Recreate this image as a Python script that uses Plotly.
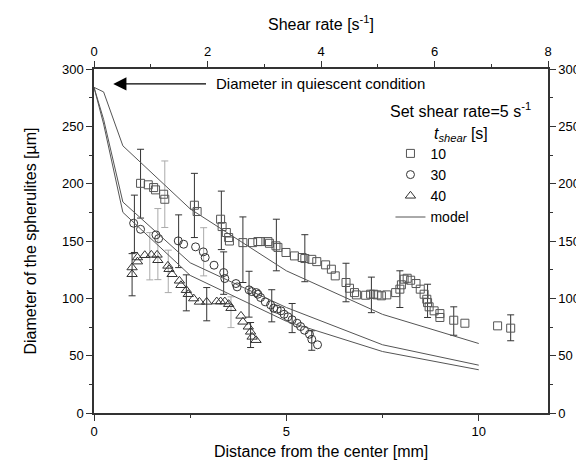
import plotly.graph_objects as go

# ---- data ----
sq_x = [1.21, 1.41, 1.55, 1.60, 1.81, 1.84, 2.61, 2.68, 3.29, 3.33, 3.44, 3.50, 3.52, 3.87, 4.12,
        4.26, 4.33, 4.52, 4.56, 4.73, 4.78, 4.99, 5.21, 5.41, 5.48, 5.66, 5.79, 6.02, 6.17, 6.27,
        6.55, 6.64, 6.77, 6.82, 7.06, 7.19, 7.27, 7.36, 7.47, 7.61, 7.84, 7.95, 7.99, 8.06, 8.14,
        8.23, 8.37, 8.48, 8.58, 8.65, 8.67, 8.71, 8.84, 8.99, 8.99, 9.35, 9.64, 10.49, 10.83]
sq_y = [200.3, 199, 196.6, 194.6, 190.8, 186.4, 181.2, 175.7, 169, 162.6, 157.4, 153, 150, 148.6, 148.6,
        149.5, 149.5, 149.5, 148, 145.8, 144.4, 140, 137, 135.6, 134.7, 134, 132, 129.2, 125.4, 119.6,
        113.8, 108.8, 105, 103, 102.7, 103.6, 103.6, 103, 102.2, 103, 105, 108, 111.8, 116.7, 117.5,
        115.8, 112.9, 108, 103.6, 99.2, 96.3, 92.6, 89.1, 86.7, 83.3, 80.9, 78.3, 76, 74]

ci_x = [1.03, 1.21, 1.61, 1.68, 2.19, 2.33, 2.64, 2.84, 2.89, 3.12, 3.37, 3.40, 3.69, 3.72, 4.03,
        4.10, 4.22, 4.26, 4.33, 4.45, 4.59, 4.67, 4.76, 4.86, 4.94, 5.04, 5.15, 5.28, 5.37, 5.47,
        5.60, 5.66, 5.81]
ci_y = [165.5, 160.2, 155.3, 152.1, 150.1, 147.2, 144.9, 140.5, 135.6, 128.9, 122.5, 117.3, 112.9, 110, 107.4,
        105.9, 105, 103.6, 100.7, 96.9, 94.3, 91.4, 90.5, 89.1, 86.1, 83.9, 81.3, 78.3, 75.4, 72.2,
        68.7, 64.3, 59.5]

tr_x = [0.99, 0.99, 1.13, 1.13, 1.32, 1.49, 1.64, 1.66, 1.92, 1.95, 2.03, 2.22, 2.26, 2.40, 2.45,
        2.59, 2.74, 2.93, 3.19, 3.29, 3.40, 3.50, 3.56, 3.82, 3.87, 4.01, 4.07, 4.11, 4.21]
tr_y = [121, 126.9, 135.6, 132, 137.6, 137.9, 137.9, 133.2, 128.3, 125.4, 121, 115.3, 111.4, 107.1, 103.6,
        99.8, 96.9, 96.9, 97.2, 97.2, 97.2, 94.9, 91.4, 84.7, 79.5, 75.2, 70.8, 66.4, 63.5]

# error bars: position, centre, half-length, shade (1 = light)
sq_ex = [1.21, 1.84, 2.61, 3.31, 3.87, 4.74, 5.48, 6.55, 7.21, 7.95, 8.67, 9.35, 10.83]
sq_ey = [200, 190.8, 181, 168, 142.4, 146.5, 135, 113.8, 103, 108, 97.8, 80.2, 74.3]
sq_ee = [30, 29, 28, 25.5, 28.6, 22.5, 20.5, 16.8, 15.5, 16, 14.5, 12.4, 11.3]
sq_es = [0, 1, 0, 0, 0, 0, 0, 0, 0, 0, 0, 0, 0]

ci_ex = [1.05, 1.66, 2.20, 2.85, 3.37, 4.03, 4.62, 5.15, 5.66]
ci_ey = [165, 147.3, 149.8, 140.6, 122, 103.6, 93.5, 82.8, 63.2]
ci_ee = [25, 31, 23, 21, 18.5, 20, 14, 12.7, 8.5]
ci_es = [0, 1, 0, 1, 0, 0, 0, 0, 0]

tr_ex = [0.99, 1.45, 1.93, 2.40, 2.93, 3.56, 4.07]
tr_ey = [120.6, 136.7, 123.5, 104.8, 94.9, 87.9, 68]
tr_ee = [18.4, 20.6, 18.5, 15.7, 14.5, 13.4, 10.9]
tr_es = [0, 1, 1, 0, 0, 1, 0]

model_x = [0, 0.25, 0.75, 2.5, 5, 7.5, 10]
model_10 = [284, 280, 233, 178, 124, 86, 60.6]
model_30 = [284, 256, 184, 131, 92, 59.5, 41.7]
model_40 = [284, 252, 175, 120, 80, 53.6, 37.7]

series_names = ["10", "30", "40"]

FONT = "Arial, Liberation Sans, sans-serif"
DARK = "#333333"
LIGHT = "#aaaaaa"

fig = go.Figure()

def add_err(ex, ey, ee, es):
    for shade, col in ((0, DARK), (1, LIGHT)):
        xs = [x for x, s in zip(ex, es) if s == shade]
        ys = [y for y, s in zip(ey, es) if s == shade]
        es_ = [e for e, s in zip(ee, es) if s == shade]
        if not xs:
            continue
        fig.add_trace(go.Scatter(
            x=xs, y=ys, mode="markers", showlegend=False, hoverinfo="skip",
            marker=dict(size=1, color="rgba(0,0,0,0)"),
            error_y=dict(type="data", array=es_, visible=True, color=col, thickness=1, width=3.5)))

add_err(sq_ex, sq_ey, sq_ee, sq_es)
add_err(ci_ex, ci_ey, ci_ee, ci_es)
add_err(tr_ex, tr_ey, tr_ee, tr_es)

fig.add_trace(go.Scatter(x=sq_x, y=sq_y, mode="markers", name=series_names[0],
                         marker=dict(symbol="square-open", size=8, color="#555555",
                                     line=dict(width=1, color="#555555"))))
fig.add_trace(go.Scatter(x=ci_x, y=ci_y, mode="markers", name=series_names[1],
                         marker=dict(symbol="circle-open", size=8, color="#333333",
                                     line=dict(width=1, color="#333333"))))
fig.add_trace(go.Scatter(x=tr_x, y=tr_y, mode="markers", name=series_names[2],
                         marker=dict(symbol="triangle-up-open", size=9, color="#333333",
                                     line=dict(width=1, color="#333333"))))

for i, my in enumerate([model_10, model_30, model_40]):
    fig.add_trace(go.Scatter(x=model_x, y=my, mode="lines", name="model",
                             showlegend=(i == 0), line=dict(color="#555555", width=1)))

# dummy trace so the secondary axes are drawn
fig.add_trace(go.Scatter(x=[None], y=[None], xaxis="x2", yaxis="y2", showlegend=False,
                         hoverinfo="skip"))

axis_common = dict(showline=True, linecolor=DARK, linewidth=1.5, ticks="outside",
                   tickcolor=DARK, tickwidth=1.2, ticklen=6, showgrid=False, zeroline=False,
                   tickfont=dict(size=13, color="#000", family=FONT))

fig.update_layout(
    width=584, height=462,
    margin=dict(l=86, r=34, t=61, b=57),
    paper_bgcolor="white", plot_bgcolor="white",
    font=dict(family=FONT, color="#000"),
    xaxis=dict(range=[0, 11.8], tick0=0, dtick=5,
               minor=dict(ticks="outside", ticklen=3, dtick=2.5, tickcolor=DARK), **axis_common),
    xaxis2=dict(range=[0, 8], overlaying="x", side="top", tick0=0, dtick=2,
                minor=dict(ticks="outside", ticklen=3, dtick=1, tickcolor=DARK), **axis_common),
    yaxis=dict(range=[0, 300], tick0=0, dtick=50,
               minor=dict(ticks="outside", ticklen=3, dtick=25, tickcolor=DARK), **axis_common),
    yaxis2=dict(range=[0, 300], overlaying="y", side="right", tick0=0, dtick=50,
                minor=dict(ticks="outside", ticklen=3, dtick=25, tickcolor=DARK), **axis_common),
    legend=dict(x=0.653, y=0.80, xanchor="left", yanchor="top", bgcolor="rgba(0,0,0,0)",
                font=dict(size=14, family=FONT, color="#000"), tracegroupgap=0, itemwidth=30),
    showlegend=True,
)

ann = [
    dict(text="Distance from the center [mm]", xref="paper", yref="paper", x=0.5, y=-0.113,
         xanchor="center", yanchor="middle", showarrow=False, font=dict(size=16)),
    dict(text="Shear rate [s<sup>-1</sup>]", xref="paper", yref="paper", x=0.5, y=1.135,
         xanchor="center", yanchor="middle", showarrow=False, font=dict(size=16)),
    dict(text="Diameter of the spherulites [\u00b5m]", xref="paper", yref="paper", x=-0.142, y=0.5,
         xanchor="center", yanchor="middle", textangle=-90, showarrow=False, font=dict(size=16)),
    dict(text="Set shear rate=5 s<sup>-1</sup>", xref="paper", yref="paper", x=0.808, y=0.88,
         xanchor="center", yanchor="middle", showarrow=False, font=dict(size=16)),
    dict(text="<i>t</i><sub><i>shear</i></sub> [s]", xref="paper", yref="paper", x=0.808, y=0.81,
         xanchor="center", yanchor="middle", showarrow=False, font=dict(size=16)),
    dict(text="Diameter in quiescent condition", x=3.12, y=287, xref="x", yref="y",
         xanchor="left", yanchor="middle", showarrow=False, font=dict(size=15)),
    dict(text="", x=0.5, y=287, ax=2.95, ay=287, xref="x", yref="y", axref="x", ayref="y",
         showarrow=True, arrowhead=2, arrowsize=2.2, arrowwidth=1.2, arrowcolor="#000"),
]
fig.update_layout(annotations=ann)

fig.write_html("out.html")
